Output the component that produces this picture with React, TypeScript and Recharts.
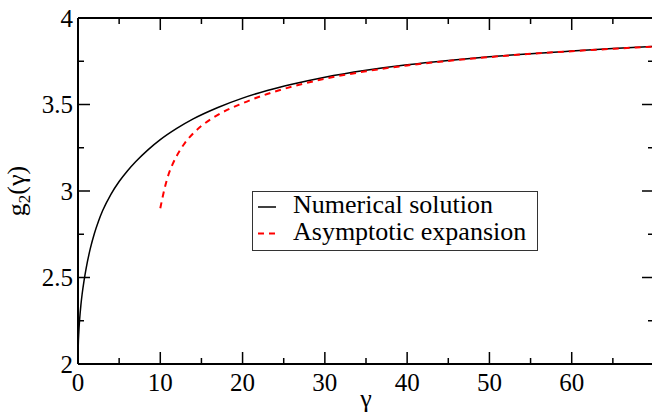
import { LineChart, Line, XAxis, YAxis, Legend } from 'recharts'

// numerical solution
const NUM_GAMMA = [0, 0.03, 0.1, 0.2, 0.35, 0.5, 0.75, 1, 1.5, 2, 2.5, 3, 4, 5, 6, 7, 8.5, 10, 12, 14, 17, 20, 23, 26, 30, 35, 40, 45, 50, 55, 60, 65, 70]
const NUM_G2 = [2.0, 2.104, 2.184, 2.259, 2.34, 2.403, 2.486, 2.556, 2.668, 2.756, 2.827, 2.887, 2.981, 3.055, 3.116, 3.169, 3.238, 3.297, 3.362, 3.417, 3.483, 3.537, 3.581, 3.617, 3.658, 3.698, 3.73, 3.755, 3.776, 3.794, 3.809, 3.823, 3.836]

// asymptotic expansion, starts at gamma = 10
const ASY_GAMMA = [10, 10.5, 11, 11.5, 12, 13, 14, 15, 17, 20, 23, 26, 30, 35, 40, 45, 50, 55, 60, 65, 70]
const ASY_G2 = [2.9, 3.01, 3.095, 3.155, 3.203, 3.278, 3.333, 3.376, 3.44, 3.507, 3.561, 3.603, 3.649, 3.692, 3.726, 3.752, 3.774, 3.793, 3.808, 3.822, 3.835]

const X_TICKS = [0, 5, 10, 15, 20, 25, 30, 35, 40, 45, 50, 55, 60, 65]
const X_LABELS = [0, 10, 20, 30, 40, 50, 60]
const Y_TICKS = [2, 2.25, 2.5, 2.75, 3, 3.25, 3.5, 3.75, 4]
const Y_LABELS = [2, 2.5, 3, 3.5, 4]

const SERIES = [
  { name: 'Numerical solution', color: '#000000', dash: undefined as string | undefined, width: 1.5 },
  { name: 'Asymptotic expansion', color: '#ff0000', dash: '6 5', width: 2 },
]

const FONT = 'Liberation Serif, Times New Roman, serif'
const MAJOR = 12
const MINOR = 6

const numData = NUM_GAMMA.map((x, i) => ({ x, y: NUM_G2[i] }))
const asyData = ASY_GAMMA.map((x, i) => ({ x, y: ASY_G2[i] }))

const Label = ({ size, children, ...rest }: any) => (
  <text {...rest} fontFamily={FONT} fontSize={size} style={{ fontFamily: FONT, fontSize: size }} fill="#000">
    {children}
  </text>
)

const BottomTick = ({ x, y, payload }: any) => {
  const major = X_LABELS.includes(payload.value)
  return (
    <g>
      <line x1={x} y1={y} x2={x} y2={y - (major ? MAJOR : MINOR)} stroke="#000" strokeWidth={1.5} />
      {major && (
        <Label x={x} y={y + 26.5} textAnchor="middle" size={25}>
          {String(payload.value)}
        </Label>
      )}
    </g>
  )
}

const TopTick = ({ x, y, payload }: any) => {
  const major = X_LABELS.includes(payload.value)
  return <line x1={x} y1={y} x2={x} y2={y + (major ? MAJOR : MINOR)} stroke="#000" strokeWidth={1.5} />
}

const LeftTick = ({ x, y, payload }: any) => {
  const major = Y_LABELS.includes(payload.value)
  return (
    <g>
      <line x1={x} y1={y} x2={x + (major ? MAJOR : MINOR)} y2={y} stroke="#000" strokeWidth={1.5} />
      {major && (
        <Label x={x - 5} y={y + 8.5} textAnchor="end" size={25}>
          {String(payload.value)}
        </Label>
      )}
    </g>
  )
}

const RightTick = ({ x, y, payload }: any) => {
  const major = Y_LABELS.includes(payload.value)
  return <line x1={x} y1={y} x2={x - (major ? MAJOR : MINOR)} y2={y} stroke="#000" strokeWidth={1.5} />
}

const LegendBox = () => (
  <svg width={287} height={61} style={{ display: 'block', overflow: 'visible' }}>
    <rect x={0.5} y={0.5} width={285} height={59} fill="#fff" stroke="#333" strokeWidth={1} />
    {SERIES.map((s, i) => (
      <g key={s.name}>
        <line x1={6} x2={24} y1={16 + i * 26.5} y2={16 + i * 26.5} stroke={s.color} strokeWidth={s.width} strokeDasharray={s.dash} />
        <Label x={41} y={22 + i * 27} size={26}>
          {s.name}
        </Label>
      </g>
    ))}
  </svg>
)

const axisLine = { stroke: '#000', strokeWidth: 2 }

export default function App() {
  return (
    <div style={{ position: 'absolute', left: 0, top: 0, width: 652, height: 418, overflow: 'hidden', background: '#fff', fontFamily: FONT }}>
      <LineChart width={660} height={418} margin={{ top: 17, right: 5, bottom: 53, left: 77 }} style={{ overflow: 'visible' }}>
        <XAxis
          xAxisId="b"
          type="number"
          dataKey="x"
          domain={[0, 70]}
          ticks={X_TICKS}
          interval={0}
          tickSize={0}
          tickMargin={0}
          tickLine={false}
          tick={<BottomTick />}
          height={1}
          axisLine={axisLine}
          allowDataOverflow
        />
        <XAxis
          xAxisId="t"
          orientation="top"
          type="number"
          dataKey="x"
          domain={[0, 70]}
          ticks={X_TICKS}
          interval={0}
          tickSize={0}
          tickMargin={0}
          tickLine={false}
          tick={<TopTick />}
          height={1}
          axisLine={axisLine}
          allowDataOverflow
        />
        <YAxis
          yAxisId="l"
          type="number"
          domain={[2, 4]}
          ticks={Y_TICKS}
          interval={0}
          tickSize={0}
          tickMargin={0}
          tickLine={false}
          tick={<LeftTick />}
          width={1}
          axisLine={axisLine}
          allowDataOverflow
        />
        <YAxis
          yAxisId="r"
          orientation="right"
          type="number"
          domain={[2, 4]}
          ticks={Y_TICKS}
          interval={0}
          tickSize={0}
          tickMargin={0}
          tickLine={false}
          tick={<RightTick />}
          width={1}
          axisLine={axisLine}
          allowDataOverflow
        />
        <Line
          xAxisId="b"
          yAxisId="l"
          data={numData}
          dataKey="y"
          name={SERIES[0].name}
          type="monotone"
          stroke={SERIES[0].color}
          strokeWidth={SERIES[0].width}
          dot={false}
          isAnimationActive={false}
        />
        <Line
          xAxisId="b"
          yAxisId="l"
          data={asyData}
          dataKey="y"
          name={SERIES[1].name}
          type="monotone"
          stroke={SERIES[1].color}
          strokeWidth={SERIES[1].width}
          strokeDasharray={SERIES[1].dash}
          dot={false}
          isAnimationActive={false}
        />
        <Legend
          layout="vertical"
          align="center"
          verticalAlign="middle"
          content={<LegendBox />}
          wrapperStyle={{ position: 'absolute', left: 252, top: 191, width: 287, height: 61 }}
        />
        <Label x={366} y={407} textAnchor="middle" size={26}>
          γ
        </Label>
        <Label x={25} y={191} transform="rotate(-90 25 191)" textAnchor="middle" size={26}>
          g<tspan fontSize={17} dy={5}>2</tspan>
          <tspan dy={-5}>(γ)</tspan>
        </Label>
      </LineChart>
    </div>
  )
}
